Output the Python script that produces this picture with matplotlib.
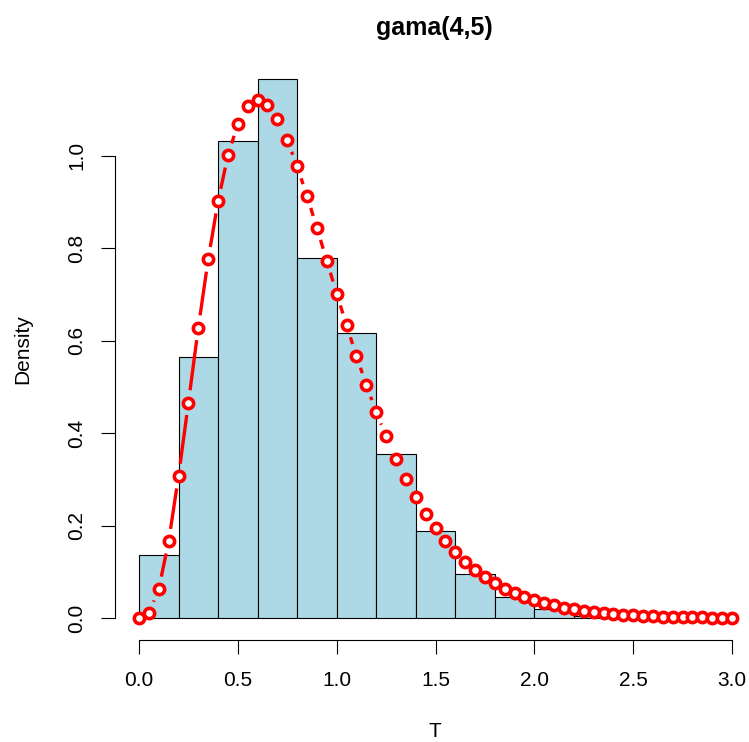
import numpy as np
import matplotlib
matplotlib.use("Agg")
import matplotlib.pyplot as plt

plt.rcParams['font.family'] = ['Liberation Sans', 'DejaVu Sans']

# ---- data ----
bin_edges = [0.0, 0.2, 0.4, 0.6, 0.8, 1.0, 1.2, 1.4, 1.6, 1.8, 2.0, 2.2, 2.4, 2.6, 2.8, 3.0]
bin_density = [0.136, 0.565, 1.031, 1.166, 0.779, 0.616, 0.355, 0.189, 0.0945,
               0.0448, 0.020, 0.005, 0.002, 0.001, 0.001]

curve_x = [0.00, 0.05, 0.10, 0.15, 0.20, 0.25, 0.30, 0.35, 0.40, 0.45,
           0.50, 0.55, 0.60, 0.65, 0.70, 0.75, 0.80, 0.85, 0.90, 0.95,
           1.00, 1.05, 1.10, 1.15, 1.20, 1.25, 1.30, 1.35, 1.40, 1.45,
           1.50, 1.55, 1.60, 1.65, 1.70, 1.75, 1.80, 1.85, 1.90, 1.95,
           2.00, 2.05, 2.10, 2.15, 2.20, 2.25, 2.30, 2.35, 2.40, 2.45,
           2.50, 2.55, 2.60, 2.65, 2.70, 2.75, 2.80, 2.85, 2.90, 2.95, 3.00]
curve_y = [0.000, 0.010, 0.063, 0.166, 0.307, 0.466, 0.628, 0.776, 0.902, 1.001,
           1.069, 1.108, 1.120, 1.109, 1.079, 1.034, 0.977, 0.913, 0.844, 0.773,
           0.702, 0.633, 0.567, 0.504, 0.446, 0.393, 0.344, 0.300, 0.261, 0.226,
           0.194, 0.167, 0.143, 0.122, 0.104, 0.089, 0.075, 0.063, 0.054, 0.045,
           0.038, 0.032, 0.027, 0.022, 0.019, 0.015, 0.013, 0.011, 0.009, 0.007,
           0.006, 0.005, 0.004, 0.003, 0.003, 0.002, 0.002, 0.002, 0.001, 0.001, 0.001]

x_ticks = [0.0, 0.5, 1.0, 1.5, 2.0, 2.5, 3.0]
y_ticks = [0.0, 0.2, 0.4, 0.6, 0.8, 1.0]
title = "gama(4,5)"
xlabel = "T"
ylabel = "Density"

# ---- figure ----
W, H = 749, 742
DPI = 100
fig = plt.figure(figsize=(W / DPI, H / DPI), dpi=DPI)

left_px, right_px, bottom_px, top_px = 115.3, 755.7, 639.5, 58.0
ax = fig.add_axes([left_px / W, (H - bottom_px) / H,
                   (right_px - left_px) / W, (bottom_px - top_px) / H])
ax.set_xlim(-0.12, 3.12)
ax.set_ylim(-0.0466, 1.2116)
ax.patch.set_alpha(0)

# histogram
widths = np.diff(bin_edges)
ax.bar(bin_edges[:-1], bin_density, width=widths, align='edge',
       color='#ADD8E6', edgecolor='black', linewidth=0.8, zorder=2)

# curve: segments with gaps around points (type = "b")
fig.canvas.draw()
pts = ax.transData.transform(np.column_stack([curve_x, curve_y]))
gap = 12.5
seg_x, seg_y = [], []
inv = ax.transData.inverted()
for i in range(len(pts) - 1):
    p0, p1 = pts[i], pts[i + 1]
    d = np.hypot(*(p1 - p0))
    if d > 2 * gap + 0.5:
        u = (p1 - p0) / d
        a = inv.transform(p0 + u * gap)
        b = inv.transform(p1 - u * gap)
        seg_x += [a[0], b[0], np.nan]
        seg_y += [a[1], b[1], np.nan]
ax.plot(seg_x, seg_y, color='red', linewidth=2.4, solid_capstyle='butt', zorder=3)
ax.plot(curve_x, curve_y, linestyle='none', marker='o', markersize=7.4,
        markerfacecolor='white', markeredgecolor='red', markeredgewidth=2.6,
        zorder=4, clip_on=False)

# axes styling (R-like)
for s in ['top', 'right']:
    ax.spines[s].set_visible(False)
ax.spines['left'].set_bounds(0, 1.0)
ax.spines['bottom'].set_bounds(0, 3.0)
for s in ['left', 'bottom']:
    ax.spines[s].set_linewidth(0.8)
ax.set_xticks(x_ticks)
ax.set_yticks(y_ticks)
ax.set_xticklabels([f"{v:.1f}" for v in x_ticks])
ax.set_yticklabels([f"{v:.1f}" for v in y_ticks], rotation=90, va='center')
ax.tick_params(axis='both', direction='out', length=9.8, width=0.8,
               labelsize=15, colors='black')
ax.tick_params(axis='x', pad=13)
ax.tick_params(axis='y', pad=11)

fig.text(434 / W, (H - 35) / H, title, ha='center', va='baseline',
         fontsize=18, fontweight='bold')
fig.text(435 / W, (H - 737) / H, xlabel, ha='center', va='baseline', fontsize=15)
fig.text(23 / W, (H - 349) / H, ylabel, ha='center', va='center',
         rotation=90, fontsize=15)

fig.savefig('out.png', dpi=DPI)
